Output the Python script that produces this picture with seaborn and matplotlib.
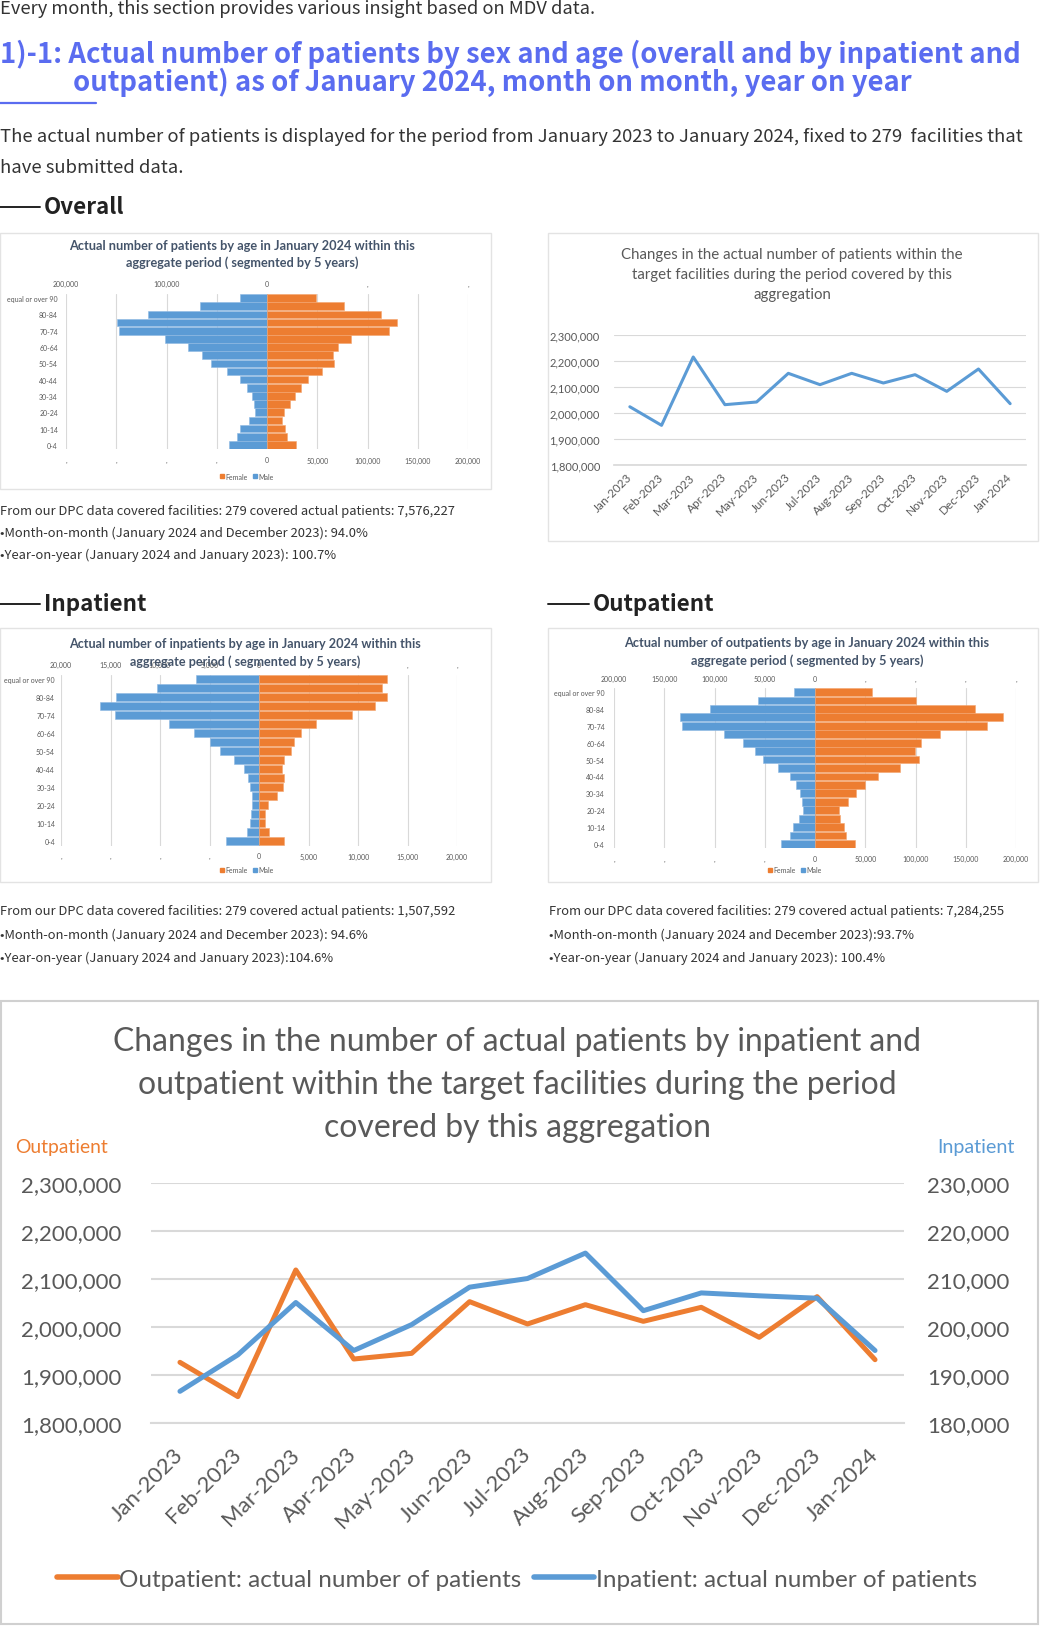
import numpy as np
import pandas as pd
import matplotlib
matplotlib.use("Agg")
import matplotlib.pyplot as plt
import seaborn as sns
from matplotlib.patches import Rectangle, Patch
from matplotlib.lines import Line2D
from matplotlib.ticker import FuncFormatter

# ---------------- data ----------------
ages = ["0-4", "5-9", "10-14", "15-19", "20-24", "25-29", "30-34", "35-39", "40-44",
        "45-49", "50-54", "55-59", "60-64", "65-69", "70-74", "75-79", "80-84", "85-89",
        "equal or over 90"]

overall_male = [38000, 30000, 26700, 18300, 12000, 12700, 15000, 20000, 26700, 39700,
                55700, 64700, 79000, 101300, 147700, 149700, 118300, 66300, 26700]
overall_female = [29300, 20000, 18300, 15000, 16700, 22700, 28000, 34000, 40700, 54300,
                  67000, 65300, 70700, 83300, 121000, 129700, 113300, 76700, 49000]

inpatient_male = [3300, 1200, 880, 780, 710, 710, 880, 1110, 1550, 2530,
                  3970, 4920, 6570, 9060, 14580, 16100, 14410, 10270, 6400]
inpatient_female = [2520, 980, 570, 640, 875, 1820, 2460, 2520, 2320, 2490,
                    3230, 3570, 4280, 5790, 9390, 11680, 12900, 12460, 12960]

outpatient_male = [33700, 25000, 21700, 15700, 11700, 12700, 14700, 19000, 25300, 37000,
                   51700, 59300, 71300, 90300, 132300, 134700, 104700, 56700, 21300]
outpatient_female = [39700, 31000, 29300, 25300, 24300, 33000, 40700, 50000, 62300, 84300,
                     103000, 99700, 105700, 124300, 171000, 187000, 159700, 100300, 56700]

months = ["Jan-2023", "Feb-2023", "Mar-2023", "Apr-2023", "May-2023", "Jun-2023", "Jul-2023",
          "Aug-2023", "Sep-2023", "Oct-2023", "Nov-2023", "Dec-2023", "Jan-2024"]
overall_total = [2024000, 1952600, 2215400, 2032000, 2042300, 2152600, 2109000,
                 2152600, 2115400, 2147400, 2083300, 2169200, 2035900]
outpatient_total = [1926400, 1854900, 2118800, 1933300, 1945100, 2052800, 2006300,
                    2046500, 2011800, 2041000, 1978500, 2063200, 1931900]
inpatient_total = [186600, 194200, 205100, 195100, 200500, 208300, 210100,
                   215400, 203400, 207100, 206500, 206000, 195100]

# ---------------- style ----------------
ORANGE = "#ED7D31"
BLUE = "#5B9BD5"
GRID = "#D9D9D9"
TICK = "#595959"
HEAD_BLUE = "#5a6cf0"
BODY = "#333333"
PTITLE = "#44546A"

sns.set_theme(style="white")
plt.rcParams["font.family"] = ["Lato", "DejaVu Sans"]

W, H = 1040, 1649
fig = plt.figure(figsize=(W / 100, H / 100), dpi=100)
fig.patch.set_facecolor("white")
renderer = fig.canvas.get_renderer()


def fx(x):
    return x / W


def fy(y):
    return 1 - y / H


def ftext(x, y, s, width=None, size=10, ha="left", va="center", **kw):
    t = fig.text(fx(x), fy(y), s, ha=ha, va=va, fontsize=size, **kw)
    if width:
        bb = t.get_window_extent(renderer)
        t.set_fontsize(size * width / bb.width)
    return t


def block(x, ys, lines, width, ref=0, ha="left", **kw):
    t0 = ftext(x, ys[ref], lines[ref], width=width, ha=ha, **kw)
    fs = t0.get_fontsize()
    for i, (yy, s) in enumerate(zip(ys, lines)):
        if i != ref:
            ftext(x, yy, s, size=fs, ha=ha, **kw)
    return fs


def add_ax(l, t, r, b):
    return fig.add_axes([l / W, 1 - b / H, (r - l) / W, (b - t) / H])


def box(l, t, r, b, color="#e3e3e3", lw=1.0):
    fig.add_artist(Rectangle((fx(l), fy(b)), (r - l) / W, (b - t) / H,
                             transform=fig.transFigure, fill=False,
                             edgecolor=color, lw=lw))


def hline(x0, x1, y, color, lw):
    fig.add_artist(Line2D([fx(x0), fx(x1)], [fy(y), fy(y)], transform=fig.transFigure,
                          color=color, lw=lw))


BODYF = ["Noto Sans CJK JP", "DejaVu Sans"]

# ---------------- header texts ----------------
ftext(0, 9, "Every month, this section provides various insight based on MDV data.",
      width=597, family=BODYF, color=BODY)
fsh = ftext(0, 54, "1)-1: Actual number of patients by sex and age (overall and by inpatient and",
            width=1025, family=BODYF, weight="bold", color=HEAD_BLUE).get_fontsize()
ftext(73, 82, "outpatient) as of January 2024, month on month, year on year", size=fsh,
      family=BODYF, weight="bold", color=HEAD_BLUE)
hline(0, 96, 104, HEAD_BLUE, 1.6)
block(0, [137, 168],
      ["The actual number of patients is displayed for the period from January 2023 to January 2024, fixed to 279  facilities that",
       "have submitted data."], width=1023, family=BODYF, color=BODY)

fss = ftext(44, 208, "Overall", width=81, family=BODYF, weight="bold", color="#222222").get_fontsize()
hline(0, 40, 208, "#222222", 1.4)
ftext(44, 605, "Inpatient", size=fss, family=BODYF, weight="bold", color="#222222")
hline(0, 40, 605, "#222222", 1.4)
ftext(593, 605, "Outpatient", size=fss, family=BODYF, weight="bold", color="#222222")
hline(548, 589, 605, "#222222", 1.4)

fsi = block(0, [511, 533, 555],
            ["From our DPC data covered facilities: 279 covered actual patients: 7,576,227",
             "\u2022Month-on-month (January 2024 and December 2023): 94.0%",
             "\u2022Year-on-year (January 2024 and January 2023): 100.7%"],
            width=458, family=BODYF, color=BODY)
for xx, lines in [(0, ["From our DPC data covered facilities: 279 covered actual patients: 1,507,592",
                       "\u2022Month-on-month (January 2024 and December 2023): 94.6%",
                       "\u2022Year-on-year (January 2024 and January 2023):104.6%"]),
                  (549, ["From our DPC data covered facilities: 279 covered actual patients: 7,284,255",
                         "\u2022Month-on-month (January 2024 and December 2023):93.7%",
                         "\u2022Year-on-year (January 2024 and January 2023): 100.4%"])]:
    for yy, s in zip([912, 935, 958], lines):
        ftext(xx, yy, s, size=fsi, family=BODYF, color=BODY)

# ---------------- boxes ----------------
box(0, 234, 491, 490)
box(548, 234, 1038, 542)
box(0, 629, 491, 883)
box(548, 629, 1038, 883)
box(1, 1002, 1038, 1625, color="#d0d0d0", lw=1.5)


# ---------------- pyramids ----------------
def pyramid(ax, male, female, lim, grid_step, top_step, ypad, toppad, botpad, legend_xy):
    order = ages[::-1]
    sns.barplot(x=[-v for v in male], y=ages, order=order, orient="h", color=BLUE,
                saturation=1, width=0.93, edgecolor="#8fb9e3", linewidth=0.4, ax=ax)
    sns.barplot(x=female, y=ages, order=order, orient="h", color=ORANGE,
                saturation=1, width=0.93, edgecolor="#f4a56f", linewidth=0.4, ax=ax)
    ax.set_xlim(-lim, lim)
    ax.set_ylim(18.5, -0.5)
    ticks = np.arange(-lim, lim + 1, grid_step)
    ax.set_xticks(ticks)
    ax.set_xticklabels(["," if t < 0 else f"{t:,.0f}" for t in ticks])
    ax.grid(axis="x", color=GRID, lw=0.8)
    ax.grid(axis="y", visible=False)
    ax.set_axisbelow(True)
    ax.set_yticks(range(19))
    ax.set_yticklabels([o if i % 2 == 0 else "" for i, o in enumerate(order)])
    ax.tick_params(length=0, labelsize=5, labelcolor=TICK)
    ax.tick_params(axis="x", pad=botpad)
    ax.tick_params(axis="y", pad=ypad)
    for s in ax.spines.values():
        s.set_visible(False)
    ax.set_xlabel("")
    ax.set_ylabel("")
    ax.patch.set_alpha(0)
    sec = ax.secondary_xaxis("top")
    tt = np.arange(-lim, lim + 1, top_step)
    sec.set_xticks(tt, [f"{-t:,.0f}" if t < 0 else ("0" if t == 0 else ",") for t in tt])
    sec.tick_params(length=0, labelsize=5, labelcolor=TICK, pad=toppad)
    for s in sec.spines.values():
        s.set_visible(False)
    ax.legend(handles=[Patch(color=ORANGE), Patch(color=BLUE)], labels=["Female", "Male"],
              loc="center", bbox_to_anchor=(fx(legend_xy[0]), fy(legend_xy[1])),
              bbox_transform=fig.transFigure, ncol=2, frameon=False, fontsize=5,
              handlelength=0.6, handleheight=0.6, handletextpad=0.2, columnspacing=0.8,
              labelcolor=TICK)


ax_o = add_ax(66, 295, 468, 450)
pyramid(ax_o, overall_male, overall_female, 200000, 50000, 100000, 5.8, 4.7, 5.4, (247, 477))
block(242, [246, 263], ["Actual number of patients by age in January 2024 within this",
                        "aggregate period ( segmented by 5 years)"],
      width=345, ha="center", weight="bold", color=PTITLE)

ax_i = add_ax(61, 675.5, 457, 846.5)
pyramid(ax_i, inpatient_male, inpatient_female, 20000, 5000, 5000, 4.3, 5.0, 5.0, (247, 871))
block(245, [644, 662], ["Actual number of inpatients by age in January 2024 within this",
                        "aggregate period ( segmented by 5 years)"],
      width=353, ha="center", weight="bold", color=PTITLE)

ax_p = add_ax(614, 688.8, 1016, 849.2)
pyramid(ax_p, outpatient_male, outpatient_female, 200000, 50000, 50000, 6.5, 4.5, 5.2, (795, 871))
block(807, [643, 661], ["Actual number of outpatients by age in January 2024 within this",
                        "aggregate period ( segmented by 5 years)"],
      width=363, ha="center", weight="bold", color=PTITLE)

# ---------------- top-right line chart ----------------
ax_t = add_ax(614, 336, 1026, 466)
df_t = pd.DataFrame({"month": months, "total": overall_total})
sns.lineplot(data=df_t, x="month", y="total", sort=False, color=BLUE, lw=2.2, ax=ax_t)
ax_t.set_xlim(-0.5, 12.5)
ax_t.set_ylim(1800000, 2300000)
ax_t.set_yticks(np.arange(1800000, 2300001, 100000))
ax_t.yaxis.set_major_formatter(FuncFormatter(lambda v, p: f"{v:,.0f}"))
ax_t.grid(axis="y", color=GRID, lw=0.8)
ax_t.set_xticks(range(13))
ax_t.set_xticklabels(months, rotation=45, ha="right", va="center", rotation_mode="anchor")
ax_t.set_xticks(np.arange(-0.5, 13, 1), minor=True)
ax_t.tick_params(axis="x", which="minor", length=4, color=GRID, width=0.8)
ax_t.tick_params(axis="x", which="major", length=0, pad=7, labelsize=8.5, labelcolor=TICK)
ax_t.tick_params(axis="y", length=0, pad=10, labelsize=8, labelcolor=TICK)
for k, s in ax_t.spines.items():
    s.set_visible(k == "bottom")
ax_t.spines["bottom"].set_color(GRID)
ax_t.set_xlabel("")
ax_t.set_ylabel("")
ax_t.patch.set_alpha(0)
block(792, [255, 275, 295], ["Changes in the actual number of patients within the",
                             "target facilities during the period covered by this",
                             "aggregation"], width=342, ha="center", color=TICK)

# ---------------- bottom dual-axis chart ----------------
ax_b = add_ax(151, 1184, 904, 1424)
ax_b2 = ax_b.twinx()
df_b = pd.DataFrame({"month": months, "out": outpatient_total, "inp": inpatient_total})
sns.lineplot(data=df_b, x="month", y="out", sort=False, color=ORANGE, lw=3.6, ax=ax_b)
sns.lineplot(data=df_b, x="month", y="inp", sort=False, color=BLUE, lw=3.6, ax=ax_b2)
ax_b.set_xlim(-0.5, 12.5)
ax_b.set_ylim(1800000, 2300000)
ax_b2.set_ylim(180000, 230000)
ax_b.set_yticks(np.arange(1800000, 2300001, 100000))
ax_b2.set_yticks(np.arange(180000, 230001, 10000))
fmt = FuncFormatter(lambda v, p: f"{v:,.0f}")
ax_b.yaxis.set_major_formatter(fmt)
ax_b2.yaxis.set_major_formatter(fmt)
ax_b.grid(axis="y", color=GRID, lw=1.5)
ax_b2.grid(False)
ax_b.set_xticks(range(13))
ax_b.set_xticklabels(months, rotation=45, ha="right", va="center", rotation_mode="anchor")
ax_b.set_xticks(np.arange(-0.5, 13, 1), minor=True)
ax_b.tick_params(axis="x", which="minor", length=6.5, color=GRID, width=1.2)
ax_b.tick_params(axis="x", which="major", length=0, pad=20, labelsize=16, labelcolor=TICK)
ax_b.tick_params(axis="y", length=0, pad=21, labelsize=16, labelcolor=TICK)
ax_b2.tick_params(axis="y", length=0, pad=16.5, labelsize=16, labelcolor=TICK)
for a in (ax_b, ax_b2):
    for k, s in a.spines.items():
        s.set_visible(k == "bottom" and a is ax_b)
    a.set_xlabel("")
    a.set_ylabel("")
ax_b.spines["bottom"].set_color(GRID)
ax_b.spines["bottom"].set_linewidth(1.5)
ax_b.patch.set_alpha(0)

block(517, [1042, 1085, 1128], ["Changes in the number of actual patients by inpatient and",
                                "outpatient within the target facilities during the period",
                                "covered by this aggregation"], width=810, ha="center", color=TICK)
ftext(15, 1148, "Outpatient", width=93, color=ORANGE)
ftext(1015, 1148, "Inpatient", width=78, ha="right", color=BLUE)

fig.legend(handles=[Line2D([0], [0], color=ORANGE, lw=4), Line2D([0], [0], color=BLUE, lw=4)],
           labels=["Outpatient: actual number of patients", "Inpatient: actual number of patients"],
           loc="center", bbox_to_anchor=(fx(517), fy(1580)), ncol=2, frameon=False,
           fontsize=17.5, handlelength=2.5, handletextpad=0.05, columnspacing=0.5,
           labelcolor=TICK)

fig.savefig("out.png", dpi=100, facecolor="white")
